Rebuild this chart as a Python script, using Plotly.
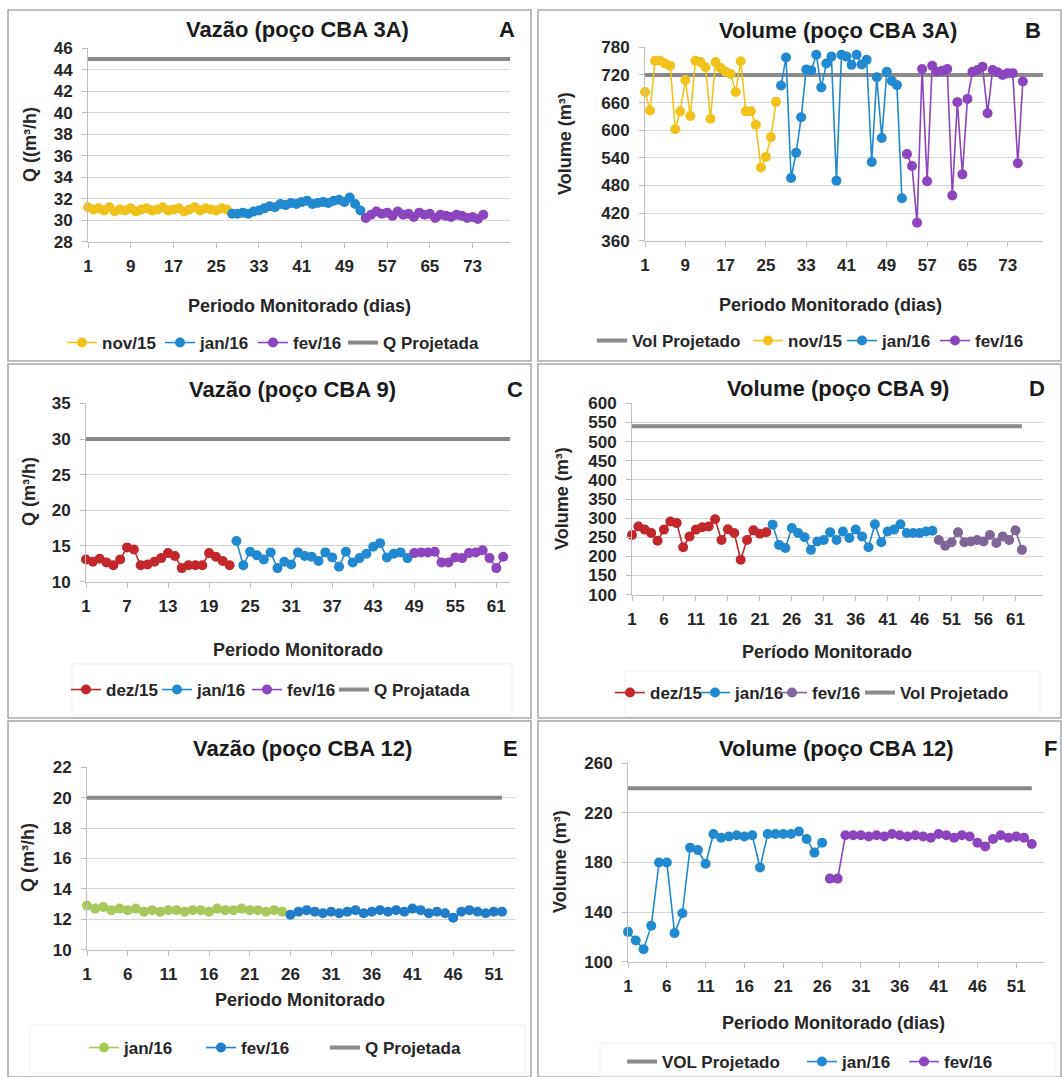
import plotly.graph_objects as go

W, H = 1062, 1077
FONT = "Liberation Sans, Arial, sans-serif"

# ---------------- DATA ----------------
# Panel A - Vazão (poço CBA 3A), Q (m3/h)
a_nov = [31.2, 31.0, 31.1, 30.9, 31.2, 30.8, 31.0, 30.9, 31.1, 30.8, 31.0, 31.1, 30.9, 31.0,
         31.2, 30.9, 31.0, 31.1, 30.8, 31.0, 31.2, 30.9, 31.1, 31.0, 30.9, 31.1, 31.0]
a_jan = [30.6, 30.6, 30.7, 30.6, 30.8, 30.9, 31.1, 31.3, 31.2, 31.5, 31.4, 31.6, 31.5, 31.7,
         31.8, 31.5, 31.6, 31.7, 31.6, 31.8, 31.9, 31.7, 32.1, 31.5, 30.9]
a_fev = [30.2, 30.5, 30.8, 30.6, 30.7, 30.4, 30.8, 30.5, 30.6, 30.3, 30.7, 30.5, 30.6, 30.2,
         30.5, 30.4, 30.3, 30.5, 30.4, 30.2, 30.3, 30.1, 30.5]
a_proj = 45
a_proj_days = [1, 80]

# Panel B - Volume (poço CBA 3A), m3
b_nov = [683, 643, 751, 751, 745, 740, 602, 641, 709, 631, 751, 748, 737, 625, 748, 735, 727,
         722, 683, 750, 641, 641, 612, 519, 542, 585, 662]
b_jan = [697, 758, 496, 551, 628, 732, 730, 764, 693, 745, 760, 490, 764, 760, 742, 764, 743,
         753, 531, 715, 583, 727, 707, 698, 452]
b_fev = [548, 522, 399, 733, 489, 740, 727, 729, 733, 458, 661, 504, 668, 727, 731, 738, 637,
         731, 726, 720, 724, 724, 528, 706]
b_proj = 720
b_proj_days = [1, 80]

# Panel C - Vazão (poço CBA 9)
c_dez = [13.1, 12.8, 13.2, 12.7, 12.3, 13.1, 14.8, 14.5, 12.3, 12.4, 12.8, 13.3, 14.0, 13.6,
         11.9, 12.3, 12.3, 12.3, 14.0, 13.5, 12.9, 12.3]
c_jan = [15.7, 12.3, 14.2, 13.7, 13.1, 14.1, 11.9, 12.8, 12.4, 14.1, 13.6, 13.5, 12.9, 14.1,
         13.4, 12.1, 14.2, 12.7, 13.3, 13.9, 14.9, 15.4, 13.4, 13.9, 14.1, 13.3]
c_fev = [14.0, 14.1, 14.1, 14.2, 12.7, 12.7, 13.4, 13.3, 14.0, 14.1, 14.4, 13.3, 11.9, 13.5]
c_proj = 30
c_proj_days = [1, 63]

# Panel D - Volume (poço CBA 9)
d_dez = [256, 278, 270, 261, 241, 270, 291, 287, 224, 252, 270, 276, 278, 297, 243, 271, 261,
         191, 243, 268, 259, 263]
d_jan = [283, 230, 222, 274, 261, 250, 217, 239, 243, 263, 243, 265, 248, 270, 252, 224, 284,
         237, 265, 270, 284, 261, 261, 261, 265, 267]
d_fev = [243, 228, 237, 263, 237, 239, 243, 239, 256, 235, 252, 243, 268, 217]
d_proj = 540
d_proj_days = [1, 62]

# Panel E - Vazão (poço CBA 12)
e_jan = [12.9, 12.7, 12.8, 12.6, 12.7, 12.6, 12.7, 12.5, 12.6, 12.5, 12.6, 12.6, 12.5, 12.6,
         12.6, 12.5, 12.7, 12.6, 12.6, 12.7, 12.6, 12.6, 12.5, 12.6, 12.5]
e_fev = [12.3, 12.5, 12.6, 12.5, 12.4, 12.5, 12.4, 12.5, 12.6, 12.4, 12.5, 12.6, 12.5, 12.6,
         12.5, 12.7, 12.6, 12.4, 12.5, 12.4, 12.1, 12.5, 12.6, 12.5, 12.4, 12.5, 12.5]
e_proj = 20
e_proj_days = [1, 52]

# Panel F - Volume (poço CBA 12)
f_jan = [124, 117, 110, 129, 180, 180, 123, 139, 192, 190, 179, 203, 200, 201, 202, 201, 202,
         176, 203, 203, 203, 203, 205, 199, 188, 196]
f_fev = [167, 167, 202, 202, 202, 201, 202, 201, 203, 202, 201, 202, 201, 200, 203, 202, 200,
         202, 201, 196, 193, 199, 202, 200, 201, 200, 195]
f_proj = 240
f_proj_days = [1, 53]


def days(start, values):
    return list(range(start, start + len(values)))


# ---------------- STYLE ----------------
YELLOW = "#F2C21C"
BLUE = "#2189D0"
PURPLE = "#8A45BF"
RED = "#C1272D"
GREEN = "#A8C85C"
GREYPURPLE = "#7F6696"
GREY = "#8A8A8A"
TXT = "#262626"


def X(p):
    return p / W


def Y(p):
    return 1 - p / H


fig = go.Figure()


def series(s, leg, x, y, name, color, lw_item):
    fig.add_trace(go.Scatter(
        x=x, y=y, name=name, mode="lines+markers",
        line=dict(color=color, width=1.6),
        marker=dict(color=color, size=10),
        xaxis="x" + s, yaxis="y" + s, legend=leg, legendwidth=lw_item,
        cliponaxis=False, showlegend=True))


def proj(s, leg, x, yv, name, lw_item):
    fig.add_trace(go.Scatter(
        x=x, y=[yv] * len(x), name=name, mode="lines",
        line=dict(color=GREY, width=4),
        xaxis="x" + s, yaxis="y" + s, legend=leg, legendwidth=lw_item,
        cliponaxis=False))


# Panel A
proj("", "legend", a_proj_days, a_proj, "Q Projetada", 120)
series("", "legend", days(1, a_nov), a_nov, "nov/15", YELLOW, 53)
series("", "legend", days(28, a_jan), a_jan, "jan/16", BLUE, 48)
series("", "legend", days(53, a_fev), a_fev, "fev/16", PURPLE, 45)
# Panel B
proj("2", "legend2", b_proj_days, b_proj, "Vol Projetado", 111)
series("2", "legend2", days(1, b_nov), b_nov, "nov/15", YELLOW, 49)
series("2", "legend2", days(28, b_jan), b_jan, "jan/16", BLUE, 48)
series("2", "legend2", days(53, b_fev), b_fev, "fev/16", PURPLE, 60)
# Panel C
proj("3", "legend3", c_proj_days, c_proj, "Q Projatada", 120)
series("3", "legend3", days(1, c_dez), c_dez, "dez/15", RED, 46)
series("3", "legend3", days(23, c_jan), c_jan, "jan/16", BLUE, 45)
series("3", "legend3", days(49, c_fev), c_fev, "fev/16", PURPLE, 42)
# Panel D
proj("4", "legend4", d_proj_days, d_proj, "Vol Projetado", 120)
series("4", "legend4", days(1, d_dez), d_dez, "dez/15", RED, 40)
series("4", "legend4", days(23, d_jan), d_jan, "jan/16", BLUE, 32)
series("4", "legend4", days(49, d_fev), d_fev, "fev/16", GREYPURPLE, 43)
# Panel E
proj("5", "legend5", e_proj_days, e_proj, "Q Projetada", 120)
series("5", "legend5", days(1, e_jan), e_jan, "jan/16", GREEN, 72)
series("5", "legend5", days(26, e_fev), e_fev, "fev/16", "#1F7DC9", 79)
# Panel F
proj("6", "legend6", f_proj_days, f_proj, "VOL Projetado", 135)
series("6", "legend6", days(1, f_jan), f_jan, "jan/16", BLUE, 57)
series("6", "legend6", days(27, f_fev), f_fev, "fev/16", PURPLE, 60)

# legend order: series first, projected line last (except B and F where it comes first)
for tr in fig.data:
    if tr.legend in ("legend2", "legend6") and tr.mode == "lines":
        tr.legendrank = 1
    elif tr.mode == "lines":
        tr.legendrank = 900
    else:
        tr.legendrank = 500

panels = [
    dict(s="", leg="legend", xd=(88, 510), yd=(48, 242), xr=[1, 80], yr=[28, 46], xdt=8, ydt=2,
         title="Vazão (poço CBA 3A)", tpos=(297, 29), letter="A", lpos=(507, 29),
         ytitle="Q ((m³/h)", ytpos=(30, 145), xtitle="Periodo Monitorado (dias)", xtpos=(299, 306),
         legx=109, legy=343, box=(8, 10, 531, 361), lbox=None),
    dict(s="2", leg="legend2", xd=(645, 1043), yd=(47, 241), xr=[1, 80], yr=[360, 780], xdt=8, ydt=60,
         title="Volume (poço CBA 3A)", tpos=(838, 30), letter="B", lpos=(1033, 30),
         ytitle="Volume (m³)", ytpos=(565, 144), xtitle="Periodo Monitorado (dias)", xtpos=(830, 305),
         legx=639, legy=341, box=(538, 10, 1061, 361), lbox=None),
    dict(s="3", leg="legend3", xd=(86, 510), yd=(403, 582), xr=[1, 63], yr=[10, 35], xdt=6, ydt=5,
         title="Vazão (poço CBA 9)", tpos=(292, 390), letter="C", lpos=(515, 390),
         ytitle="Q (m³/h)", ytpos=(29, 492), xtitle="Periodo Monitorado", xtpos=(298, 650),
         legx=113, legy=690, box=(8, 364, 531, 718), lbox=(72, 664, 512, 715)),
    dict(s="4", leg="legend4", xd=(632, 1043), yd=(403, 595), xr=[1, 65.3], yr=[100, 600], xdt=5, ydt=50,
         title="Volume (poço CBA 9)", tpos=(838, 388), letter="D", lpos=(1037, 388),
         ytitle="Volume (m³)", ytpos=(562, 499), xtitle="Período Monitorado", xtpos=(827, 652),
         legx=657, legy=693, box=(538, 364, 1061, 718), lbox=(625, 671, 1040, 716)),
    dict(s="5", leg="legend5", xd=(87, 515), yd=(767, 950), xr=[1, 53.6], yr=[10, 22], xdt=5, ydt=2,
         title="Vazão (poço CBA 12)", tpos=(302, 748), letter="E", lpos=(510, 748),
         ytitle="Q (m³/h)", ytpos=(28, 858), xtitle="Periodo Monitorado", xtpos=(300, 1000),
         legx=131, legy=1048, box=(8, 721, 531, 1077), lbox=(30, 1025, 525, 1073)),
    dict(s="6", leg="legend6", xd=(628, 1045), yd=(763, 962), xr=[1, 54.7], yr=[100, 260], xdt=5, ydt=40,
         title="Volume (poço CBA 12)", tpos=(836, 748), letter="F", lpos=(1050, 748),
         ytitle="Volume (m³)", ytpos=(560, 862), xtitle="Periodo Monitorado (dias)", xtpos=(833, 1023),
         legx=669, legy=1062, box=(538, 721, 1061, 1077), lbox=(600, 1043, 1055, 1077)),
]

tickfont = dict(family=FONT, size=17, color=TXT, weight="bold")
layout = {}
annotations = []
shapes = []
for p in panels:
    s = p["s"]
    eps = (p["yr"][1] - p["yr"][0]) * 0.002
    layout["xaxis" + s] = dict(
        domain=[X(p["xd"][0]), X(p["xd"][1])], range=p["xr"], anchor="y" + s,
        tickmode="linear", tick0=1, dtick=p["xdt"], showgrid=False, zeroline=False,
        showline=True, linecolor="#bfbfbf", linewidth=1, ticks="outside", ticklen=5,
        tickcolor="#bfbfbf", tickfont=tickfont, ticklabelstandoff=4, fixedrange=True)
    layout["yaxis" + s] = dict(
        domain=[Y(p["yd"][1]), Y(p["yd"][0])], range=[p["yr"][0] - eps, p["yr"][1] + eps],
        anchor="x" + s, tickmode="linear", tick0=p["yr"][0], dtick=p["ydt"],
        showgrid=True, gridcolor="#d6d6d6", gridwidth=1, zeroline=False,
        showline=True, linecolor="#bfbfbf", linewidth=1, ticks="outside", ticklen=5,
        tickcolor="#bfbfbf", tickfont=tickfont, ticklabelstandoff=6, fixedrange=True)
    layout[p["leg"]] = dict(
        orientation="h", x=X(p["legx"] - 47), y=Y(p["legy"]), xanchor="left", yanchor="middle",
        font=dict(family=FONT, size=17, color=TXT, weight="bold"),
        bgcolor="rgba(0,0,0,0)", itemwidth=30, traceorder="normal")
    annotations.append(dict(text=p["title"], x=X(p["tpos"][0]), y=Y(p["tpos"][1]),
                            xref="paper", yref="paper", showarrow=False, xanchor="center",
                            yanchor="middle", font=dict(family=FONT, size=22, color="#1a1a1a", weight="bold")))
    annotations.append(dict(text=p["letter"], x=X(p["lpos"][0]), y=Y(p["lpos"][1]),
                            xref="paper", yref="paper", showarrow=False, xanchor="center",
                            yanchor="middle", font=dict(family=FONT, size=22, color="#1a1a1a", weight="bold")))
    annotations.append(dict(text=p["ytitle"], x=X(p["ytpos"][0]), y=Y(p["ytpos"][1]),
                            xref="paper", yref="paper", showarrow=False, xanchor="center",
                            yanchor="middle", textangle=-90,
                            font=dict(family=FONT, size=18, color=TXT, weight="bold")))
    annotations.append(dict(text=p["xtitle"], x=X(p["xtpos"][0]), y=Y(p["xtpos"][1]),
                            xref="paper", yref="paper", showarrow=False, xanchor="center",
                            yanchor="middle", font=dict(family=FONT, size=18, color=TXT, weight="bold")))
    bx = p["box"]
    shapes.append(dict(type="rect", xref="paper", yref="paper", x0=X(bx[0]), x1=X(bx[2]),
                       y0=Y(bx[3]), y1=Y(bx[1]), line=dict(color="#a6a6a6", width=1.5),
                       fillcolor="rgba(0,0,0,0)", layer="below"))
    if p["lbox"]:
        lb = p["lbox"]
        shapes.append(dict(type="rect", xref="paper", yref="paper", x0=X(lb[0]), x1=X(lb[2]),
                           y0=Y(lb[3]), y1=Y(lb[1]), line=dict(color="#efefef", width=1),
                           fillcolor="rgba(0,0,0,0)", layer="below"))

layout.update(dict(
    width=W, height=H, margin=dict(l=0, r=0, t=0, b=0, autoexpand=False),
    paper_bgcolor="white", plot_bgcolor="white",
    font=dict(family=FONT, size=17, color=TXT, weight="bold"),
    annotations=annotations, shapes=shapes, showlegend=True,
))
fig.update_layout(**layout)

fig.write_html("out.html", config={"displayModeBar": False},
               post_script="document.body.style.margin='0px';")
